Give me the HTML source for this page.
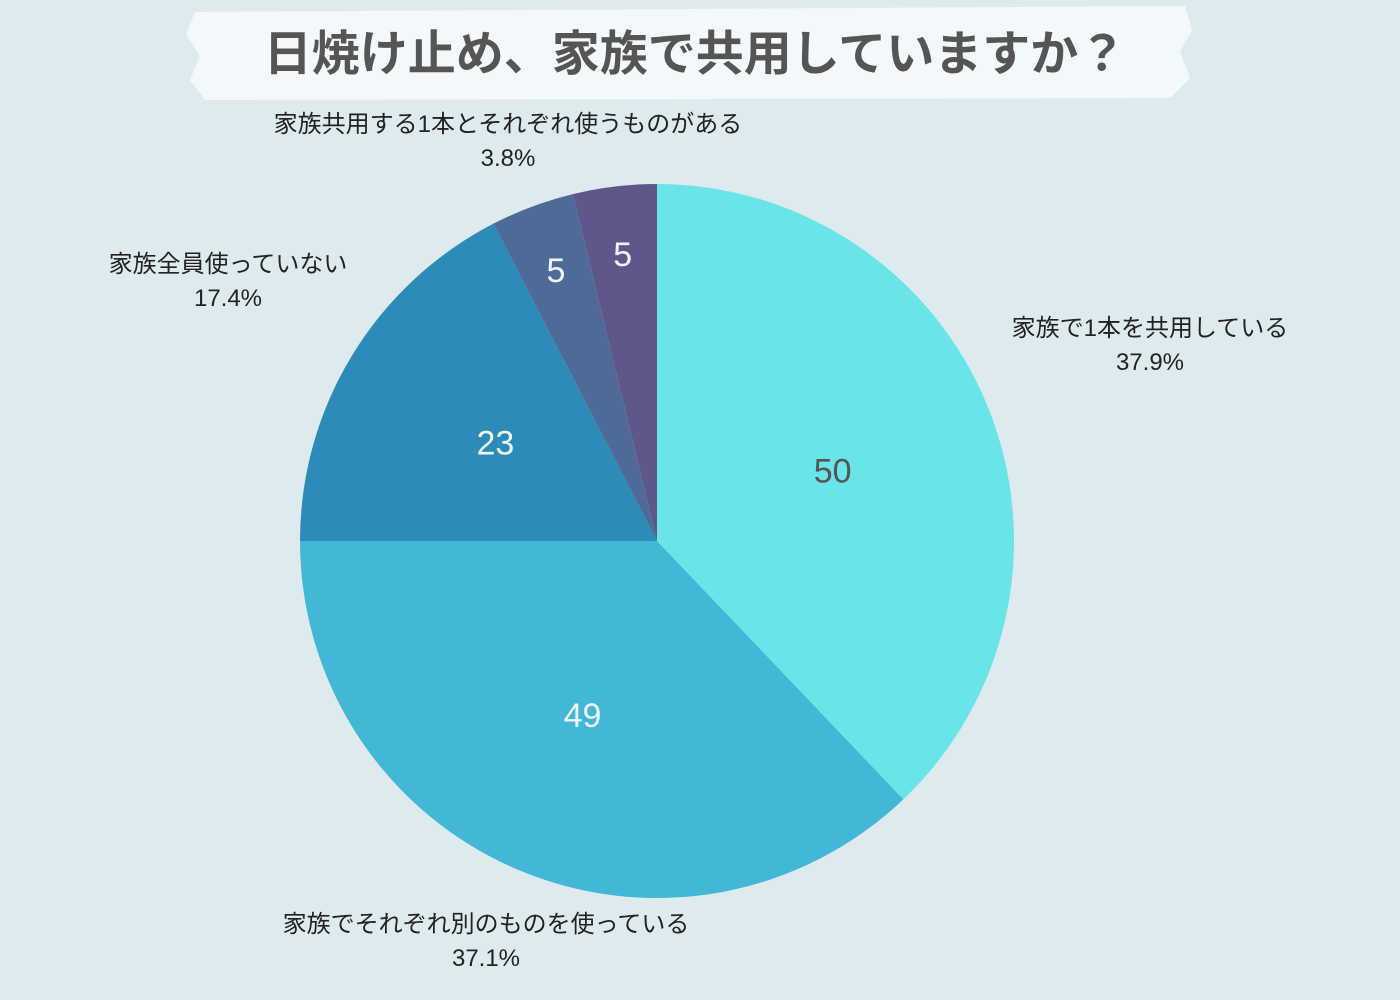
<!DOCTYPE html>
<html><head><meta charset="utf-8">
<style>
body{margin:0;width:1400px;height:1000px;background:#deebee;font-family:"Liberation Sans","Noto Sans CJK JP",sans-serif;overflow:hidden;position:relative}
.t{position:absolute;text-align:center;color:#222;font-size:24px;line-height:34px;transform:translateX(-50%);white-space:nowrap}
</style></head><body>
<svg width="1400" height="1000" style="position:absolute;left:0;top:0">
<path d="M195 12 L1185 6 L1192 30 L1180 52 L1190 78 L1170 98 L205 100 L190 80 L200 56 L186 34 Z" fill="#f3f9fa"/>
<text x="695" y="70" text-anchor="middle" font-size="48" font-weight="bold" fill="#555" font-family="Liberation Sans, Noto Sans CJK JP, sans-serif">日焼け止め、家族で共用していますか？</text>
<g id="slices"></g>
</svg>
<div class="t" style="left:1150px;top:312px">家族で1本を共用している<br>37.9%</div>
<div class="t" style="left:486px;top:908px">家族でそれぞれ別のものを使っている<br>37.1%</div>
<div class="t" style="left:228px;top:248px">家族全員使っていない<br>17.4%</div>
<div class="t" style="left:508px;top:108px">家族共用する1本とそれぞれ使うものがある<br>3.8%</div>
<script>
const categories=["家族で1本を共用している","家族でそれぞれ別のものを使っている","家族全員使っていない","家族共用する1本とそれぞれ使うものがある","その他"];
const values=[50,49,23,5,5];
const colors=["#69e4e8","#42b7d6","#2d8bba","#4d6b96","#5f578a"];
const textColors=["#555","#eef5f8","#eef5f8","#eef5f8","#eef5f8"];
const cx=657,cy=541,r=357;
const g=document.getElementById('slices');
const ns="http://www.w3.org/2000/svg";
const total=values.reduce((a,b)=>a+b,0);
let acc=0;
function pt(a,rr){return [cx+rr*Math.sin(a),cy-rr*Math.cos(a)];}
values.forEach((v,i)=>{
 const a0=acc/total*2*Math.PI;acc+=v;const a1=acc/total*2*Math.PI;
 const p0=pt(a0,r),p1=pt(a1,r);
 const p=document.createElementNS(ns,'path');
 p.setAttribute('d',`M${cx} ${cy} L${p0[0]} ${p0[1]} A${r} ${r} 0 ${a1-a0>Math.PI?1:0} 1 ${p1[0]} ${p1[1]} Z`);
 p.setAttribute('fill',colors[i]);
 
 
 g.appendChild(p);
 const frac=v/total;
 const lp=pt((a0+a1)/2,r*(frac<0.05?0.81:0.53));
 const t=document.createElementNS(ns,'text');
 t.setAttribute('x',lp[0]);t.setAttribute('y',lp[1]+12);
 t.setAttribute('text-anchor','middle');t.setAttribute('font-size','34');
 t.setAttribute('fill',textColors[i]);
 t.setAttribute('font-family','Liberation Sans, sans-serif');
 t.textContent=v;
 
 
 g.appendChild(t);
});
</script>
</body></html>
